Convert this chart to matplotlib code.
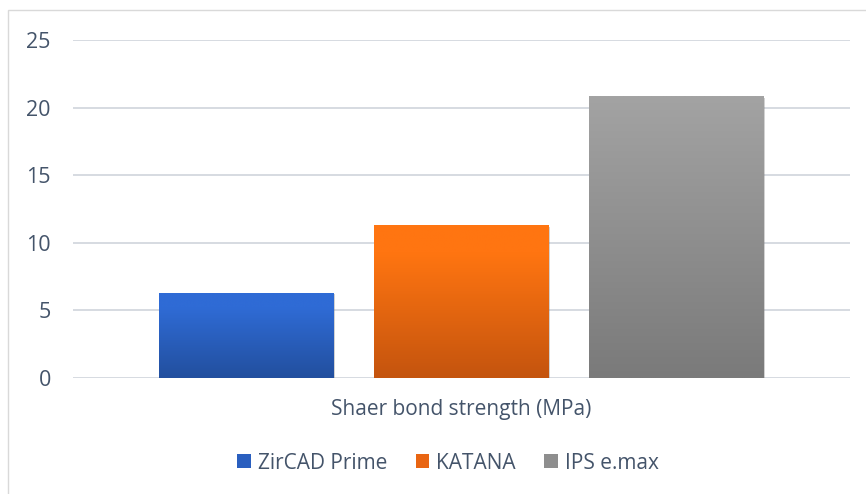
import numpy as np
import matplotlib
matplotlib.use("Agg")
import matplotlib.pyplot as plt
from matplotlib.colors import LinearSegmentedColormap
from matplotlib.patches import Rectangle
import matplotlib.patheffects as pe

plt.rcParams['font.family'] = ['Open Sans', 'DejaVu Sans']

category = ["Shaer bond strength (MPa)"]
series = ["ZirCAD Prime", "KATANA", "IPS e.max"]
values = [6.3, 11.3, 20.85]
top_colors = ["#2F6BD5", "#FF7511", "#A3A3A3"]
bottom_colors = ["#224F9E", "#C4540E", "#7A7A7A"]
mid_colors = ["#2A5FBF", "#E96512", "#8E8E8E"]
yticks = [0, 5, 10, 15, 20, 25]

W, H = 866, 494
fig = plt.figure(figsize=(W / 100, H / 100), dpi=100)
fig.patch.set_facecolor("white")

# chart border
fig.patches.append(Rectangle((8 / W, -0.02), 1.0, 1 - 10 / H + 0.02, transform=fig.transFigure,
                             fill=False, edgecolor="#D9D9D9", linewidth=1.0))

ax = fig.add_axes([73 / W, (H - 378) / H, (850 - 73) / W, (378 - 40) / H])
ax.set_facecolor("white")

text_color = "#44546A"
grid_color = "#D6DBE1"

bar_w = 175 / 777
offsets = [-215 / 777, 0, 215 / 777]

handles = []
for i, (s, v) in enumerate(zip(series, values)):
    x = offsets[i]
    bars = ax.bar(x, v, width=bar_w, color=mid_colors[i], label=s, zorder=3,
                  linewidth=0)
    rect = bars[0]
    rect.set_path_effects([pe.SimplePatchShadow(offset=(1.0, -1.2), shadow_rgbFace="#7F7F7F", alpha=0.35),
                           pe.Normal()])
    if i < 2:
        cmap = LinearSegmentedColormap.from_list("g", [(0, bottom_colors[i]), (0.82, top_colors[i]), (1, top_colors[i])])
    else:
        cmap = LinearSegmentedColormap.from_list("g", [(0, bottom_colors[i]), (1, top_colors[i])])
    grad = np.linspace(0, 1, 256).reshape(-1, 1)
    im = ax.imshow(grad, extent=[x - bar_w / 2, x + bar_w / 2, 0, v], origin="lower",
                   aspect="auto", cmap=cmap, zorder=3.5, interpolation="bilinear")
    im.set_clip_path(rect)
    handles.append(rect)

ax.set_xlim(-0.5, 0.5)
ax.set_ylim(0, 25)
ax.set_yticks(yticks)
ax.set_yticklabels([str(t) for t in yticks], color=text_color, fontsize=15.5)
ax.set_xticks([0])
ax.set_xticklabels(category, color=text_color, fontsize=15)
ax.tick_params(axis="y", length=0, pad=16)
ax.tick_params(axis="x", length=0, pad=15)
ax.grid(axis="y", color=grid_color, linewidth=1.4, zorder=0)
ax.set_axisbelow(True)
for sp in ax.spines.values():
    sp.set_visible(False)

leg = fig.legend(handles=handles, labels=series, loc="center", bbox_to_anchor=(448 / W, 1 - 463 / H),
                 ncol=3, frameon=False, fontsize=15, handlelength=0.65, handleheight=0.65,
                 handletextpad=0.35, columnspacing=1.35, labelcolor=text_color)
for h in leg.legend_handles:
    h.set_path_effects([])

fig.savefig("out.png", dpi=100, facecolor="white")
